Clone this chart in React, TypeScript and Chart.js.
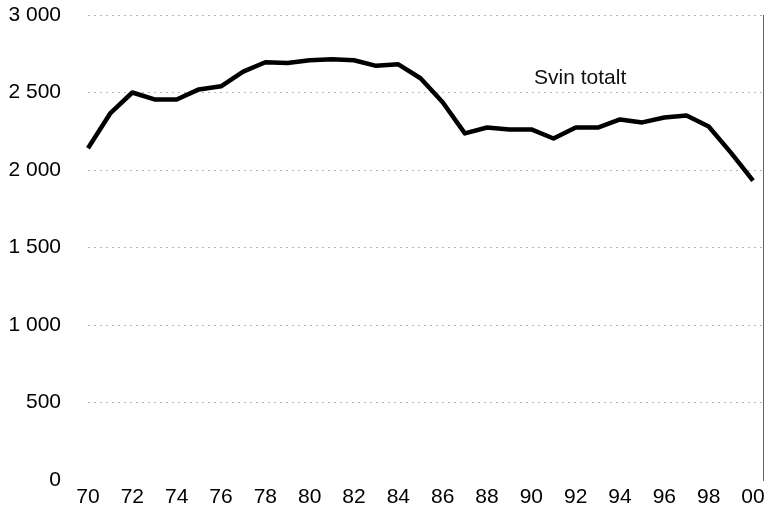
import React, { useEffect, useRef } from "react";
import { Chart, registerables } from "chart.js";

Chart.register(...registerables);

const years = [
  1970, 1971, 1972, 1973, 1974, 1975, 1976, 1977, 1978, 1979,
  1980, 1981, 1982, 1983, 1984, 1985, 1986, 1987, 1988, 1989,
  1990, 1991, 1992, 1993, 1994, 1995, 1996, 1997, 1998, 1999, 2000,
];

const svinTotalt = [
  2140, 2365, 2500, 2455, 2455, 2520, 2540, 2635, 2695, 2690,
  2708, 2714, 2708, 2672, 2682, 2592, 2437, 2236, 2274, 2262,
  2262, 2203, 2274, 2274, 2326, 2307, 2339, 2352, 2281, 2112, 1931,
];

const xTickValues = [1970, 1972, 1974, 1976, 1978, 1980, 1982, 1984, 1986, 1988, 1990, 1992, 1994, 1996, 1998, 2000];
const xTickLabels = ["70", "72", "74", "76", "78", "80", "82", "84", "86", "88", "90", "92", "94", "96", "98", "00"];

const yTickValues = [0, 500, 1000, 1500, 2000, 2500, 3000];
const yTickLabels = ["0", "500", "1 000", "1 500", "2 000", "2 500", "3 000"];

const seriesLabel = "Svin totalt";
const seriesLabelAt = { x: 1992.2, y: 2595 };

const FONT = "'Liberation Sans', Arial, Helvetica, sans-serif";

export default function App() {
  const ref = useRef<HTMLCanvasElement | null>(null);

  useEffect(() => {
    if (!ref.current) return;
    const labelPlugin = {
      id: "seriesLabel",
      afterDatasetsDraw(chart: any) {
        const { ctx, scales } = chart;
        const px = scales.x.getPixelForValue(seriesLabelAt.x);
        const py = scales.y.getPixelForValue(seriesLabelAt.y);
        ctx.save();
        ctx.font = `21px ${FONT}`;
        ctx.fillStyle = "#111";
        ctx.textAlign = "center";
        ctx.textBaseline = "middle";
        ctx.fillText(seriesLabel, px, py);
        ctx.restore();
      },
    };

    const chart = new Chart(ref.current, {
      type: "line",
      data: {
        datasets: [
          {
            label: seriesLabel,
            data: years.map((y, i) => ({ x: y, y: svinTotalt[i] })),
            borderColor: "#000",
            borderWidth: 4.5,
            pointRadius: 0,
            tension: 0,
            borderJoinStyle: "round",
            borderCapStyle: "butt",
            fill: false,
            clip: false,
          },
        ],
      },
      options: {
        animation: false,
        responsive: false,
        maintainAspectRatio: false,
        layout: { padding: { top: 15, right: 3, left: 0, bottom: 0 } },
        plugins: {
          legend: { display: false },
          tooltip: { enabled: false },
        },
        scales: {
          x: {
            type: "linear",
            min: 1970,
            max: 2000.45,
            afterBuildTicks: (s: any) => {
              s.ticks = xTickValues.map((v) => ({ value: v }));
            },
            afterFit: (s: any) => {
              s.height = 31;
              s.paddingLeft = 0;
              s.paddingRight = 0;
            },
            grid: { display: false, drawTicks: false },
            border: { display: false },
            ticks: {
              padding: 5,
              color: "#000",
              font: { family: FONT, size: 21 },
              maxRotation: 0,
              autoSkip: false,
              callback: (_v: any, i: number) => xTickLabels[i],
            },
          },
          y: {
            min: 0,
            max: 3000,
            afterBuildTicks: (s: any) => {
              s.ticks = yTickValues.map((v) => ({ value: v }));
            },
            afterFit: (s: any) => {
              s.width = 88;
              s.paddingTop = 0;
              s.paddingBottom = 0;
            },
            grid: {
              drawTicks: false,
              color: (c: any) => (c.tick && c.tick.value === 0 ? "rgba(0,0,0,0)" : "#b4b4b4"),
              lineWidth: 1,
            },
            border: { display: false, dash: [2, 4] },
            ticks: {
              padding: 27,
              color: "#000",
              font: { family: FONT, size: 21 },
              autoSkip: false,
              callback: (_v: any, i: number) => yTickLabels[i],
            },
          },
          y2: {
            position: "right",
            min: 0,
            max: 3000,
            afterFit: (s: any) => {
              s.width = 0;
              s.paddingTop = 0;
              s.paddingBottom = 0;
            },
            grid: { display: false, drawTicks: false },
            ticks: { display: false },
            border: { display: true, color: "#666", width: 1, dash: [3, 2] },
          },
        },
      } as any,
      plugins: [labelPlugin],
    });

    return () => chart.destroy();
  }, []);

  return (
    <div style={{ position: "absolute", left: 0, top: 0, width: 766, height: 511, background: "#fff" }}>
      <canvas ref={ref} width={766} height={511} style={{ display: "block", width: 766, height: 511 }} />
    </div>
  );
}
